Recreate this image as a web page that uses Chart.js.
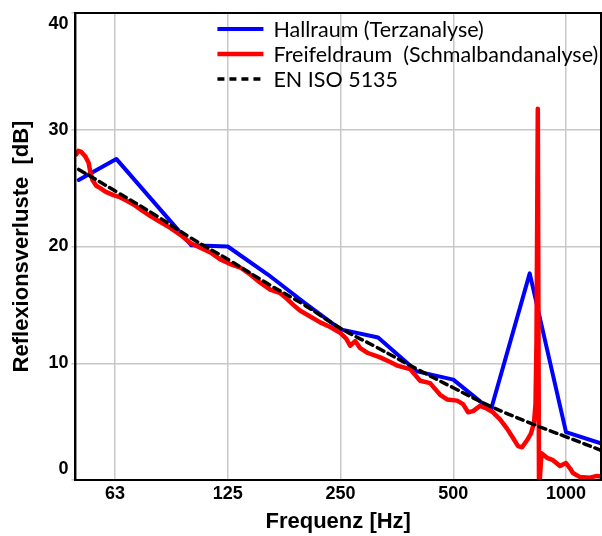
<!DOCTYPE html>
<html>
<head>
<meta charset="utf-8">
<script src="https://cdn.jsdelivr.net/npm/chart.js@4.4.1/dist/chart.umd.min.js"></script>
<style>
  html, body { margin: 0; padding: 0; background: #fff; }
  #wrap { width: 602px; height: 536px; position: relative; }
</style>
</head>
<body>
<div id="wrap"><canvas id="chart"></canvas></div>
<script>
const X_MIN = 49;
const X_MAX = 1240;
const X_TICKS = [62.5, 125, 250, 500, 1000];
const X_TICK_LABELS = ['63', '125', '250', '500', '1000'];
const Y_MIN = 0;
const Y_MAX = 40;
const Y_STEP = 10;

const X_TITLE = 'Frequenz [Hz]';
const Y_TITLE = 'Reflexionsverluste  [dB]';

const SERIES_LABELS = ['Hallraum (Terzanalyse)', 'Freifeldraum  (Schmalbandanalyse)', 'EN ISO 5135'];

// Hallraum, third-octave values
const HALL_FREQ = [50, 63, 100, 125, 160, 200, 250, 315, 400, 500, 630, 800, 1000, 1250];
const HALL_DB = [25.7, 27.5, 20.1, 20.0, 17.6, 15.2, 12.9, 12.2, 9.3, 8.6, 6.0, 17.7, 4.1, 3.1];

// Freifeldraum, narrow band trace
const FREE_FREQ = [
  49.3, 49.9, 50.8, 52.1, 53.1, 53.7, 54.4, 55.7, 57.1, 58.9,
  61.9, 64.6, 67.4, 70.8, 74.4, 77.7, 82.6, 87.8, 93.4, 99.3,
  105.6, 112.3, 119.4, 126.9, 135.0, 143.5, 152.6, 162.3, 172.6, 180.2,
  187.0, 195.2, 207.5, 220.7, 234.6, 249.5, 258.9, 265.3, 273.6, 282.1,
  294.5, 319.0, 339.2, 354.1, 383.5, 407.8, 433.7, 461.2, 481.4, 511.9,
  531.1, 547.7, 564.7, 589.5, 615.3, 638.4, 666.7, 696.0, 722.1, 744.6,
  763.1, 786.9, 806.4, 821.4, 829.1, 834.1, 840.8, 847.1, 860.1, 889.7,
  923.1, 963.6, 999.7, 1024.7, 1043.7, 1089.6, 1158.7, 1209.6, 1239.7
];
const FREE_DB = [
  27.9, 28.2, 28.1, 27.7, 27.2, 26.4, 25.7, 25.2, 25.0, 24.7,
  24.4, 24.2, 23.9, 23.5, 23.0, 22.6, 22.1, 21.6, 21.0, 20.3,
  19.9, 19.5, 18.9, 18.5, 18.2, 17.6, 16.9, 16.3, 16.0, 15.5,
  15.0, 14.5, 14.0, 13.5, 13.1, 12.6, 12.1, 11.5, 11.9, 11.3,
  10.9, 10.5, 10.1, 9.8, 9.5, 8.5, 8.3, 7.3, 6.9, 6.8,
  6.5, 5.8, 5.9, 6.35, 6.1, 5.8, 5.2, 4.4, 3.6, 2.9,
  2.8, 3.4, 4.0, 4.9, 6.5, 12.0, 31.8, -1.0, 2.3, 1.9,
  1.7, 1.2, 1.45, 1.0, 0.6, 0.25, 0.2, 0.35, 0.3
];

// EN ISO 5135 reference curve
const ISO_FREQ = [50, 63, 80, 100, 125, 160, 200, 250, 315, 400, 500, 630, 800, 1000, 1250];
const ISO_DB = [26.6, 24.7, 22.7, 20.7, 18.9, 16.8, 15.0, 13.0, 11.3, 9.5, 7.9, 6.3, 4.9, 3.7, 2.5];

const BOLD = "'Liberation Sans', Arial, sans-serif";

function points(freqs, values) {
  return freqs.map((f, i) => ({ x: f, y: values[i] }));
}

// black frame round the plot area
const framePlugin = {
  id: 'frame',
  afterDatasetsDraw(chart) {
    const { ctx, chartArea: ca } = chart;
    ctx.save();
    ctx.strokeStyle = '#000';
    ctx.lineWidth = 2;
    ctx.strokeRect(ca.left, ca.top, ca.right - ca.left, ca.bottom - ca.top);
    ctx.restore();
  },
};

// legend drawn inside the plot, top right
const insideLegend = {
  id: 'insideLegend',
  afterDraw(chart) {
    const { ctx, chartArea: ca } = chart;
    ctx.save();
    ctx.font = "21.5px Lato, 'Noto Sans', sans-serif";
    ctx.textBaseline = 'middle';
    ctx.fillStyle = '#000';
    chart.data.datasets.forEach((ds, i) => {
      const y = ca.top + 16 + i * 25;
      ctx.beginPath();
      ctx.strokeStyle = ds.borderColor;
      ctx.lineWidth = ds.borderWidth;
      ctx.setLineDash(ds.borderDash || []);
      ctx.moveTo(ca.left + 142, y);
      ctx.lineTo(ca.left + 188, y);
      ctx.stroke();
      ctx.setLineDash([]);
      ctx.fillText(ds.label, ca.left + 198, y + 1);
    });
    ctx.restore();
  },
};

new Chart(document.getElementById('chart'), {
  type: 'line',
  data: {
    datasets: [
      { label: SERIES_LABELS[0], data: points(HALL_FREQ, HALL_DB), borderColor: '#0000ff', borderWidth: 4, tension: 0, order: 3 },
      { label: SERIES_LABELS[1], data: points(FREE_FREQ, FREE_DB), borderColor: '#ff0000', borderWidth: 4.5, tension: 0, order: 2 },
      { label: SERIES_LABELS[2], data: points(ISO_FREQ, ISO_DB), borderColor: '#000000', borderWidth: 3.5, borderDash: [7, 5], tension: 0.4, order: 1 },
    ],
  },
  options: {
    responsive: true,
    maintainAspectRatio: false,
    animation: false,
    layout: { padding: { top: 13, right: 1, bottom: 0, left: 0 } },
    elements: {
      point: { radius: 0 },
      line: { borderJoinStyle: 'round', borderCapStyle: 'round', fill: false },
    },
    plugins: { legend: { display: false }, tooltip: { enabled: false } },
    scales: {
      x: {
        type: 'logarithmic',
        min: X_MIN,
        max: X_MAX,
        afterBuildTicks: (scale) => { scale.ticks = X_TICKS.map((v) => ({ value: v })); },
        afterFit: (scale) => { scale.paddingLeft = 0; scale.paddingRight = 0; },
        ticks: {
          autoSkip: false,
          maxRotation: 0,
          padding: 3,
          color: '#000',
          font: { family: BOLD, size: 18, weight: 'bold' },
          callback: (v, i) => X_TICK_LABELS[i],
        },
        grid: { color: '#c8c8c8', lineWidth: 1.5, drawTicks: false },
        border: { color: '#000', width: 2 },
        title: {
          display: true,
          text: X_TITLE,
          color: '#000',
          font: { family: BOLD, size: 22, weight: 'bold' },
          padding: { top: 1, bottom: 1 },
        },
      },
      y: {
        min: Y_MIN,
        max: Y_MAX,
        afterFit: (scale) => { scale.paddingTop = 0; scale.paddingBottom = 0; },
        ticks: {
          stepSize: Y_STEP,
          padding: 3,
          color: '#000',
          font: { family: BOLD, size: 18, weight: 'bold' },
          // outer labels sit inside the frame, as in the original
          callback: (v) => (v === Y_MAX ? ['', String(v)] : v === Y_MIN ? [String(v), ''] : String(v)),
        },
        grid: { color: '#c8c8c8', lineWidth: 1.5, tickLength: 4 },
        border: { color: '#000', width: 2 },
        title: {
          display: true,
          text: Y_TITLE,
          color: '#000',
          font: { family: BOLD, size: 22, weight: 'bold' },
          padding: { top: 9, bottom: 10 },
        },
      },
    },
  },
  plugins: [framePlugin, insideLegend],
});
</script>
</body>
</html>
